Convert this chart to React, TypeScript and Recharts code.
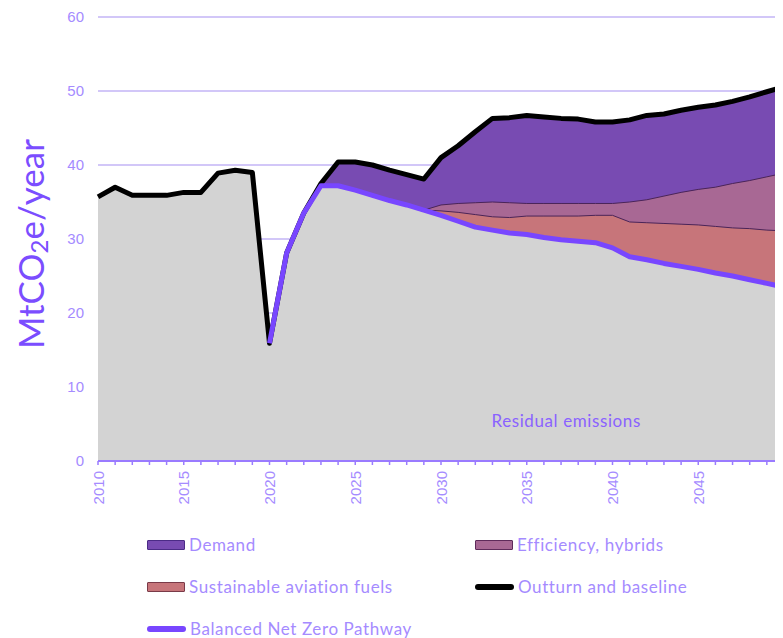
import React from 'react';
import { ComposedChart, Area, Line, XAxis, YAxis, CartesianGrid, ReferenceDot } from 'recharts';

const years = [
  2010, 2011, 2012, 2013, 2014, 2015, 2016, 2017, 2018, 2019,
  2020, 2021, 2022, 2023, 2024, 2025, 2026, 2027, 2028, 2029,
  2030, 2031, 2032, 2033, 2034, 2035, 2036, 2037, 2038, 2039,
  2040, 2041, 2042, 2043, 2044, 2045, 2046, 2047, 2048, 2049, 2050,
];

// outturn to 2020, then baseline
const baseline = [
  35.7, 37.0, 35.9, 35.9, 35.9, 36.3, 36.3, 38.9, 39.3, 39.0,
  15.9, 28.1, 33.5, 37.5, 40.4, 40.4, 40.0, 39.3, 38.7, 38.1,
  41.0, 42.6, 44.5, 46.3, 46.4, 46.7, 46.5, 46.3, 46.2, 45.8,
  45.8, 46.1, 46.7, 46.9, 47.4, 47.8, 48.1, 48.6, 49.2, 49.9, 50.6,
];

// top of efficiency, hybrids band
const efficiencyTop = [
  null, null, null, null, null, null, null, null, null, null,
  null, null, null, null, null, null, null, null, null, 33.9,
  34.6, 34.8, 34.9, 35.0, 34.9, 34.8, 34.8, 34.8, 34.8, 34.8,
  34.8, 35.0, 35.3, 35.8, 36.3, 36.7, 37.0, 37.5, 37.9, 38.4, 38.9,
];

// top of sustainable aviation fuels band
const safTop = [
  null, null, null, null, null, null, null, null, null, null,
  null, null, null, null, null, null, null, null, null, 33.9,
  33.8, 33.6, 33.3, 33.0, 32.9, 33.1, 33.1, 33.1, 33.1, 33.2,
  33.2, 32.3, 32.2, 32.1, 32.0, 31.9, 31.7, 31.5, 31.4, 31.2, 31.1,
];

const netZero = [
  null, null, null, null, null, null, null, null, null, null,
  15.9, 28.1, 33.5, 37.2, 37.2, 36.6, 35.9, 35.2, 34.6, 33.9,
  33.2, 32.4, 31.6, 31.2, 30.8, 30.6, 30.2, 29.9, 29.7, 29.5,
  28.8, 27.6, 27.2, 26.7, 26.3, 25.9, 25.4, 25.0, 24.5, 24.0, 23.5,
];

const residual = [
  35.7, 37.0, 35.9, 35.9, 35.9, 36.3, 36.3, 38.9, 39.3, 39.0,
  15.9, 28.1, 33.5, 37.2, 37.2, 36.6, 35.9, 35.2, 34.6, 33.9,
  33.2, 32.4, 31.6, 31.2, 30.8, 30.6, 30.2, 29.9, 29.7, 29.5,
  28.8, 27.6, 27.2, 26.7, 26.3, 25.9, 25.4, 25.0, 24.5, 24.0, 23.5,
];

const yTicks = [0, 10, 20, 30, 40, 50, 60];

const data = years.map((year, i) => ({
  year,
  baseline: baseline[i],
  efficiencyTop: efficiencyTop[i],
  safTop: safTop[i],
  netZero: netZero[i],
  residual: residual[i],
}));

const TEXT = '#a58bff';
const GRID = '#c3b4f6';
const AXIS = '#9a7bff';

const legendItems = [
  { label: 'Demand', kind: 'box', fill: '#784bb2', border: '#4b2b86' },
  { label: 'Efficiency, hybrids', kind: 'box', fill: '#a86894', border: '#5e2a5a' },
  { label: 'Sustainable aviation fuels', kind: 'box', fill: '#c7757a', border: '#7a3a48' },
  { label: 'Outturn and baseline', kind: 'line', fill: '#000000' },
  { label: 'Balanced Net Zero Pathway', kind: 'line', fill: '#7846ff' },
];

const YearTick = (props: any) => {
  const { x, y, payload } = props;
  if (payload.value % 5 !== 0) return <g />;
  return (
    <text
      x={x}
      y={y}
      transform={`rotate(-90, ${x}, ${y})`}
      textAnchor="end"
      dominantBaseline="central"
      fill={TEXT}
      fontSize={15}
      fontFamily="Liberation Sans, Arial, sans-serif"
    >
      {payload.value}
    </text>
  );
};

const YTitle = () => {
  const cx = 22;
  const cy = 236;
  return (
    <text
      x={cx}
      y={cy}
      transform={`rotate(-90, ${cx}, ${cy})`}
      textAnchor="middle"
      dominantBaseline="central"
      fill="#7b4dff"
      fontSize={35}
      fontFamily="Lato, sans-serif"
    >
      MtCO<tspan fontSize={24} dy={8}>2</tspan>
      <tspan dy={-8}>e/year</tspan>
    </text>
  );
};

function Legend2() {
  return (
    <div style={{ position: 'absolute', left: 0, top: 0, width: 775, height: 630, pointerEvents: 'none' }}>
      {legendItems.map((it, i) => {
        const col = i % 2;
        const row = Math.floor(i / 2);
        const left = col === 0 ? 139 : 467;
        const top = 537 + row * 42;
        return (
          <div key={it.label} style={{ position: 'absolute', left, top: top - 10, height: 20, display: 'flex', alignItems: 'center' }}>
            {it.kind === 'box' ? (
              <div style={{ width: 36, height: 8, background: it.fill, border: `1.5px solid ${it.border}`, borderRadius: 1 }} />
            ) : (
              <div style={{ width: 39, height: 6, background: it.fill, borderRadius: 3 }} />
            )}
            <span style={{ marginLeft: 4, color: TEXT, fontSize: 17, lineHeight: '18px', fontFamily: 'Lato, sans-serif', letterSpacing: 0.6, whiteSpace: 'nowrap' }}>
              {it.label}
            </span>
          </div>
        );
      })}
    </div>
  );
}

export default function App() {
  return (
    <div style={{ position: 'relative', width: 775, height: 630, overflow: 'hidden' }}>
      <ComposedChart width={781} height={505} data={data} margin={{ top: 9, right: 5, left: 0, bottom: 0 }}>
        <CartesianGrid vertical={false} stroke={GRID} strokeWidth={1.5} />
        <XAxis
          dataKey="year"
          type="number"
          domain={[2010, 2050]}
          ticks={years}
          interval={0}
          height={52}
          tick={<YearTick />}
          tickSize={4}
          tickMargin={6}
          stroke={AXIS}
          strokeWidth={2}
          tickLine={{ stroke: AXIS, strokeWidth: 1.5 }}
        />
        <YAxis
          domain={[0, 60]}
          ticks={yTicks}
          width={90}
          axisLine={false}
          tickLine={false}
          tickSize={0}
          tickMargin={14}
          tick={{ fill: TEXT, fontSize: 15, fontFamily: 'Liberation Sans, Arial, sans-serif' }}
          label={{ content: <YTitle /> }}
        />
        <Area dataKey="baseline" type="linear" fill="#784bb2" fillOpacity={1} stroke="none" isAnimationActive={false} />
        <Area dataKey="efficiencyTop" type="linear" fill="#a86894" fillOpacity={1} stroke="#4a2458" strokeWidth={1} isAnimationActive={false} />
        <Area dataKey="safTop" type="linear" fill="#c7757a" fillOpacity={1} stroke="#4a2458" strokeWidth={1} isAnimationActive={false} />
        <Area dataKey="residual" type="linear" fill="#d3d3d3" fillOpacity={1} stroke="none" isAnimationActive={false} />
        <Line dataKey="baseline" type="linear" stroke="#000000" strokeWidth={5} dot={false} strokeLinejoin="round" isAnimationActive={false} />
        <Line dataKey="netZero" type="linear" stroke="#7846ff" strokeWidth={5} dot={false} strokeLinejoin="round" isAnimationActive={false} />
        <ReferenceDot
          x={2037.3}
          y={5.4}
          r={0}
          label={{ value: 'Residual emissions', fill: '#8a62ff', fontSize: 17, fontFamily: 'Lato, sans-serif', letterSpacing: 0.6, position: 'center' }}
        />
      </ComposedChart>
      <Legend2 />
    </div>
  );
}
